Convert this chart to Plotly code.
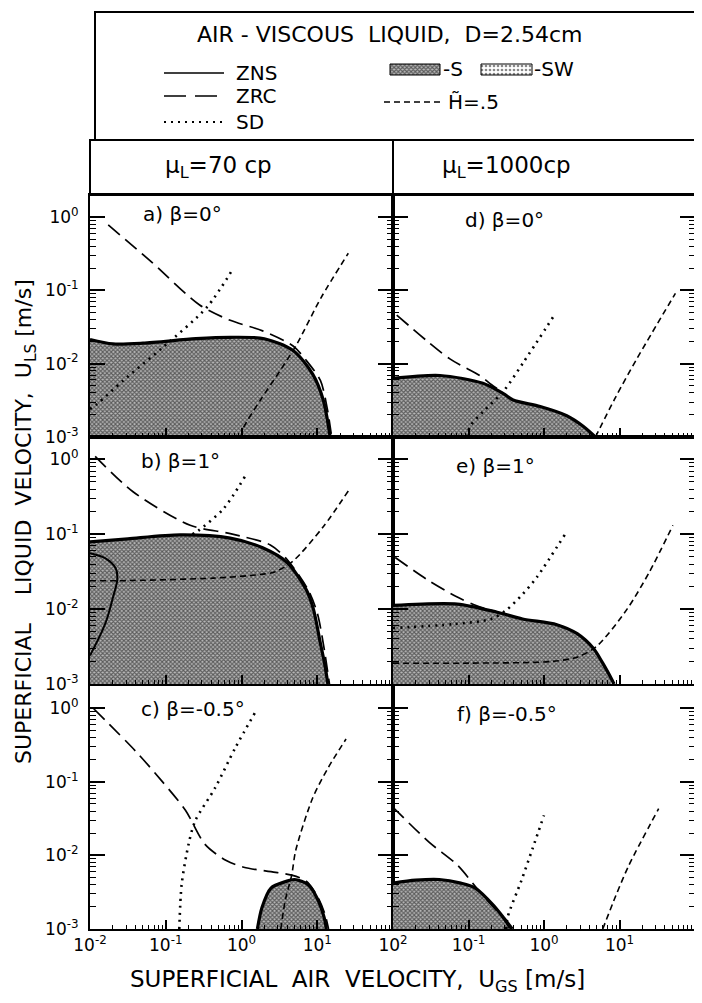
import plotly.graph_objects as go

# page window is 702x1003; the browser adds an 8px body margin, so the
# figure itself is drawn 8px smaller and all layout positions below are
# given in window pixels and converted.
WIN_W, WIN_H = 702, 1003
OFF = 8
W, H = WIN_W - OFF, WIN_H - OFF
FONT = "DejaVu Sans"

# ---------------- values (m/s) ----------------
X_RANGE = [-2, 2]          # log10 limits of U_GS axis
Y_RANGE = [-3, 0.3]        # log10 limits of U_LS axis
X_MIN, Y_MIN = 0.01, 0.001

x_tick_vals = [0.01, 0.1, 1, 10, 100]
x_tick_text_left = ["10<sup>-2</sup>", "10<sup>-1</sup>", "10<sup>0</sup>", "10<sup>1</sup>", "10<sup>2</sup>"]
x_tick_text_right = ["", "10<sup>-1</sup>", "10<sup>0</sup>", "10<sup>1</sup>", "10<sup>2</sup>"]
y_tick_vals = [0.001, 0.01, 0.1, 1]
y_tick_text = ["10<sup>-3</sup>", "10<sup>-2</sup>", "10<sup>-1</sup>", "10<sup>0</sup>"]

# (a) mu_L = 70 cp, beta = 0 deg
a_zns_x = [0.01, 0.02, 0.05, 0.25, 0.71, 2.0, 4.8, 8.7, 12.0, 14.8]
a_zns_y = [0.0214, 0.0186, 0.019, 0.0219, 0.0229, 0.0219, 0.0151, 0.0072, 0.0032, 0.001]
a_zrc_x = [0.0174, 0.063, 0.28, 0.71, 1.9, 4.8, 7.1, 11.0, 13.5, 15.5]
a_zrc_y = [0.78, 0.25, 0.063, 0.039, 0.028, 0.0174, 0.0112, 0.0059, 0.0025, 0.001]
a_sd_x = [0.01, 0.0123, 0.0275, 0.091, 0.35, 0.78]
a_sd_y = [0.0024, 0.0028, 0.0059, 0.0166, 0.059, 0.2]
a_h_x = [1.0, 1.05, 1.78, 3.2, 5.4, 11.2, 25.7]
a_h_y = [0.001, 0.0013, 0.0032, 0.0079, 0.0186, 0.079, 0.32]

# (b) mu_L = 70 cp, beta = 1 deg
b_zns_x = [0.01, 0.0316, 0.155, 0.71, 1.9, 4.0, 7.2, 8.9, 11.0, 12.6, 13.8]
b_zns_y = [0.079, 0.087, 0.098, 0.089, 0.066, 0.042, 0.018, 0.01, 0.0035, 0.0018, 0.001]
b_zrc_x = [0.0117, 0.037, 0.21, 0.71, 2.4, 4.0, 7.6, 10.0, 12.0, 14.5]
b_zrc_y = [1.1, 0.37, 0.132, 0.102, 0.072, 0.046, 0.018, 0.0089, 0.0035, 0.001]
b_sd_x = [0.224, 0.27, 0.58, 1.12]
b_sd_y = [0.1, 0.112, 0.22, 0.6]
b_h_x = [0.01, 0.025, 0.43, 1.74, 2.8, 4.8, 12.0, 25.7]
b_h_y = [0.024, 0.024, 0.026, 0.029, 0.0316, 0.044, 0.126, 0.38]
b_inner_x = [0.01, 0.0158, 0.0219, 0.0229, 0.02, 0.0158, 0.01]
b_inner_y = [0.056, 0.048, 0.035, 0.025, 0.0141, 0.0063, 0.0024]

# (c) mu_L = 70 cp, beta = -0.5 deg
c_zns_x = [1.62, 1.86, 2.45, 3.8, 5.0, 7.6, 10.0, 12.3, 13.2]
c_zns_y = [0.001, 0.00195, 0.0036, 0.0044, 0.0047, 0.004, 0.0026, 0.00145, 0.001]
c_zrc_x = [0.0112, 0.04, 0.089, 0.182, 0.33, 0.63, 1.07, 2.45, 4.6, 7.1, 10.0, 12.6, 14.1]
c_zrc_y = [0.98, 0.26, 0.102, 0.041, 0.0141, 0.0085, 0.0069, 0.006, 0.0054, 0.0045, 0.0028, 0.0016, 0.001]
c_sd_x = [0.151, 0.162, 0.2, 0.245, 0.45, 0.83, 1.55]
c_sd_y = [0.001, 0.004, 0.0141, 0.0295, 0.083, 0.29, 0.91]
c_h_x = [3.3, 3.8, 4.6, 5.2, 8.7, 14.1, 24.0]
c_h_y = [0.001, 0.0025, 0.0054, 0.0117, 0.06, 0.158, 0.38]

# (d) mu_L = 1000 cp, beta = 0 deg
d_zns_x = [0.01, 0.042, 0.155, 0.29, 0.39, 0.89, 2.0, 3.3, 4.8]
d_zns_y = [0.0063, 0.0069, 0.0054, 0.0039, 0.0032, 0.0026, 0.00195, 0.0014, 0.001]
d_zrc_x = [0.0112, 0.056, 0.141, 0.2, 0.26]
d_zrc_y = [0.046, 0.0117, 0.0069, 0.0052, 0.0043]
d_sd_x = [0.095, 0.105, 0.155, 0.29, 0.52, 1.41]
d_sd_y = [0.001, 0.0014, 0.0022, 0.0042, 0.01, 0.048]
d_h_x = [4.8, 8.9, 17.0, 55.0]
d_h_y = [0.001, 0.0035, 0.0117, 0.091]

# (e) mu_L = 1000 cp, beta = 1 deg
e_zns_x = [0.01, 0.071, 0.24, 0.52, 1.48, 2.75, 4.5, 6.0, 8.1, 8.5]
e_zns_y = [0.0112, 0.0117, 0.0091, 0.0074, 0.0062, 0.0047, 0.003, 0.0019, 0.0011, 0.001]
e_zrc_x = [0.0107, 0.028, 0.071, 0.126, 0.24]
e_zrc_y = [0.049, 0.025, 0.0145, 0.0112, 0.0091]
e_sd_x = [0.01, 0.063, 0.2, 0.32, 0.52, 0.81, 1.9]
e_sd_y = [0.0056, 0.0063, 0.0074, 0.0098, 0.0158, 0.027, 0.1]
e_h_x = [0.01, 0.1, 1.26, 2.8, 5.0, 12.6, 25.0, 51.0]
e_h_y = [0.0019, 0.0019, 0.002, 0.0023, 0.0032, 0.01, 0.0316, 0.132]

# (f) mu_L = 1000 cp, beta = -0.5 deg
f_zns_x = [0.01, 0.02, 0.041, 0.079, 0.123, 0.214, 0.28, 0.38]
f_zns_y = [0.0042, 0.0046, 0.0047, 0.0042, 0.0036, 0.0021, 0.0015, 0.001]
f_zrc_x = [0.01, 0.03, 0.071, 0.141, 0.28, 0.355]
f_zrc_y = [0.045, 0.0151, 0.0074, 0.0032, 0.00145, 0.001]
f_sd_x = [0.316, 0.33, 0.5, 0.71, 1.0]
f_sd_y = [0.001, 0.00145, 0.0045, 0.0126, 0.035]
f_h_x = [6.0, 8.9, 13.2, 33.0]
f_h_y = [0.001, 0.0028, 0.0072, 0.043]

# ---------------- styles ----------------
S_PATTERN = dict(shape="x", size=3, solidity=0.6, fgcolor="#000000", bgcolor="#b8b8b8")
SW_PATTERN = dict(shape=".", size=4, solidity=0.35, fgcolor="#111111", bgcolor="#ffffff")
ZNS_LINE = dict(color="black", width=3.2, shape="spline", smoothing=0.8)
ZRC_LINE = dict(color="black", width=1.7, dash="15px,7px", shape="spline", smoothing=0.8)
SD_LINE = dict(color="black", width=2.6, dash="2px,5px", shape="spline", smoothing=0.8)
H_LINE = dict(color="black", width=1.6, dash="6px,4px", shape="spline", smoothing=0.8)

# panel geometry in window pixels
COLS = [(90, 393), (393, 695)]
ROWS = [(195, 437), (437, 684), (686, 929)]

def fx_(px):
    return (px - OFF) / W

def fy_(py):
    return 1 - (py - OFF) / H

panels = [
    dict(n=1, col=0, row=0, label="a) β=0°", lab=(182, 214),
         zns=(a_zns_x, a_zns_y), zrc=(a_zrc_x, a_zrc_y), sd=(a_sd_x, a_sd_y), h=(a_h_x, a_h_y)),
    dict(n=2, col=0, row=1, label="b) β=1°", lab=(180, 461),
         zns=(b_zns_x, b_zns_y), zrc=(b_zrc_x, b_zrc_y), sd=(b_sd_x, b_sd_y), h=(b_h_x, b_h_y),
         inner=(b_inner_x, b_inner_y)),
    dict(n=3, col=0, row=2, label="c) β=-0.5°", lab=(193, 709),
         zns=(c_zns_x, c_zns_y), zrc=(c_zrc_x, c_zrc_y), sd=(c_sd_x, c_sd_y), h=(c_h_x, c_h_y)),
    dict(n=4, col=1, row=0, label="d) β=0°", lab=(504, 220),
         zns=(d_zns_x, d_zns_y), zrc=(d_zrc_x, d_zrc_y), sd=(d_sd_x, d_sd_y), h=(d_h_x, d_h_y)),
    dict(n=5, col=1, row=1, label="e) β=1°", lab=(495, 466),
         zns=(e_zns_x, e_zns_y), zrc=(e_zrc_x, e_zrc_y), sd=(e_sd_x, e_sd_y), h=(e_h_x, e_h_y)),
    dict(n=6, col=1, row=2, label="f) β=-0.5°", lab=(507, 714),
         zns=(f_zns_x, f_zns_y), zrc=(f_zrc_x, f_zrc_y), sd=(f_sd_x, f_sd_y), h=(f_h_x, f_h_y)),
]

fig = go.Figure()
layout = dict(
    width=W, height=H, margin=dict(l=0, r=0, t=0, b=0, autoexpand=False),
    paper_bgcolor="white", plot_bgcolor="rgba(0,0,0,0)",
    showlegend=False, font=dict(family=FONT, color="black", size=16),
)

annotations = []
for p in panels:
    n = p["n"]
    xa, ya = f"x{n}", f"y{n}"
    c0, c1 = COLS[p["col"]]
    r0, r1 = ROWS[p["row"]]
    bottom = p["row"] == 2
    left = p["col"] == 0

    zx, zy = p["zns"]
    # shaded S region: boundary closed down to the axis floor
    fx, fy = list(zx), list(zy)
    if zy[0] > Y_MIN:
        fx = fx + [X_MIN]
        fy = fy + [Y_MIN]
    fig.add_trace(go.Scatter(x=fx, y=fy, mode="lines", fill="toself",
                             fillcolor="#8a8a8a", fillpattern=S_PATTERN,
                             line=dict(width=0), xaxis=xa, yaxis=ya, hoverinfo="skip"))
    if "inner" in p:
        ix, iy = p["inner"]
        fig.add_trace(go.Scatter(x=ix, y=iy, mode="lines",
                                 line=dict(color="black", width=2, shape="spline"),
                                 xaxis=xa, yaxis=ya, hoverinfo="skip"))
    for key, st in (("sd", SD_LINE), ("h", H_LINE), ("zrc", ZRC_LINE)):
        x, y = p[key]
        fig.add_trace(go.Scatter(x=x, y=y, mode="lines", line=st,
                                 xaxis=xa, yaxis=ya, hoverinfo="skip"))
    fig.add_trace(go.Scatter(x=zx, y=zy, mode="lines", line=ZNS_LINE,
                             xaxis=xa, yaxis=ya, hoverinfo="skip"))

    axis_common = dict(type="log", showgrid=False, zeroline=False, showline=True, automargin=False,
                       linecolor="black", linewidth=2, ticks="inside", tickcolor="black",
                       tickfont=dict(family=FONT, size=17, color="black"))
    layout["xaxis" + ("" if n == 1 else str(n))] = dict(
        axis_common, range=X_RANGE, domain=[fx_(c0), fx_(c1)], anchor=ya, mirror=True,
        tickmode="array", tickvals=x_tick_vals,
        ticktext=(x_tick_text_left if left else x_tick_text_right),
        showticklabels=bottom, ticklen=9, tickwidth=2,
        minor=dict(ticks="inside", ticklen=4, tickwidth=1.3, dtick="D1", tickcolor="black", showgrid=False),
    )
    layout["yaxis" + ("" if n == 1 else str(n))] = dict(
        axis_common, range=Y_RANGE, domain=[fy_(r1), fy_(r0)], anchor=xa, mirror="ticks",
        tickmode="array", tickvals=y_tick_vals, ticktext=y_tick_text,
        showticklabels=left, ticklen=15, tickwidth=2, ticklabelstandoff=6,
        minor=dict(ticks="inside", ticklen=6, tickwidth=1.3, dtick="D1", tickcolor="black", showgrid=False),
    )
    annotations.append(dict(x=p["lab"][0], y=p["lab"][1], xref="x7", yref="y7", text=p["label"],
                            showarrow=False, font=dict(size=20, family=FONT, color="black")))

# ---------------- header (window-pixel overlay) ----------------
layout["xaxis7"] = dict(domain=[0, 1], range=[OFF, WIN_W], visible=False, fixedrange=True, anchor="y7",
                        automargin=False)
layout["yaxis7"] = dict(domain=[0, 1], range=[WIN_H, OFF], visible=False, fixedrange=True, anchor="x7",
                        automargin=False)

# legend samples
fig.add_trace(go.Scatter(x=[164, 224], y=[73, 73], mode="lines",
                         line=dict(color="black", width=1.6), xaxis="x7", yaxis="y7", hoverinfo="skip"))
fig.add_trace(go.Scatter(x=[164, 224], y=[96, 96], mode="lines",
                         line=dict(color="black", width=1.6, dash="22px,9px"), xaxis="x7", yaxis="y7", hoverinfo="skip"))
fig.add_trace(go.Scatter(x=[164, 224], y=[122, 122], mode="lines",
                         line=dict(color="black", width=2.2, dash="2px,5px"), xaxis="x7", yaxis="y7", hoverinfo="skip"))
fig.add_trace(go.Scatter(x=[384, 442], y=[102, 102], mode="lines",
                         line=dict(color="black", width=1.6, dash="6px,4px"), xaxis="x7", yaxis="y7", hoverinfo="skip"))
fig.add_trace(go.Scatter(x=[390, 440, 440, 390, 390], y=[64, 64, 75, 75, 64], mode="lines", fill="toself",
                         fillcolor="#8a8a8a", fillpattern=S_PATTERN, line=dict(color="black", width=1),
                         xaxis="x7", yaxis="y7", hoverinfo="skip"))
fig.add_trace(go.Scatter(x=[481, 532, 532, 481, 481], y=[64, 64, 75, 75, 64], mode="lines", fill="toself",
                         fillcolor="#dddddd", fillpattern=SW_PATTERN, line=dict(color="black", width=1),
                         xaxis="x7", yaxis="y7", hoverinfo="skip"))

shapes = [
    dict(type="rect", xref="x7", yref="y7", x0=95, x1=697, y0=12, y1=140, line=dict(color="black", width=2)),
    dict(type="rect", xref="x7", yref="y7", x0=90, x1=695, y0=140, y1=195, line=dict(color="black", width=2)),
    dict(type="line", xref="x7", yref="y7", x0=393, x1=393, y0=140, y1=195, line=dict(color="black", width=2)),
]

def txt(x, y, s, size, anchor="center", angle=0):
    annotations.append(dict(x=x, y=y, xref="x7", yref="y7", text=s, showarrow=False, xanchor=anchor,
                            textangle=angle, font=dict(size=size, family=FONT, color="black")))

txt(389, 34, "AIR - VISCOUS  LIQUID,  D=2.54cm", 22)
txt(234, 73, "ZNS", 20, "left")
txt(234, 96, "ZRC", 20, "left")
txt(234, 122, "SD", 20, "left")
txt(441, 69, "-S", 20, "left")
txt(532, 69, "-SW", 20, "left")
txt(446, 102, "H\u0303=.5", 20, "left")
txt(218, 167, "μ<sub>L</sub>=70 cp", 23)
txt(506, 167, "μ<sub>L</sub>=1000cp", 23)
txt(25, 522, "SUPERFICIAL    LIQUID  VELOCITY,  U<sub>LS</sub> [m/s]", 22, "center", -90)
txt(357, 981, "SUPERFICIAL  AIR  VELOCITY,  U<sub>GS</sub> [m/s]", 23)

layout["annotations"] = annotations
layout["shapes"] = shapes
fig.update_layout(**layout)
fig.write_html("out.html")
